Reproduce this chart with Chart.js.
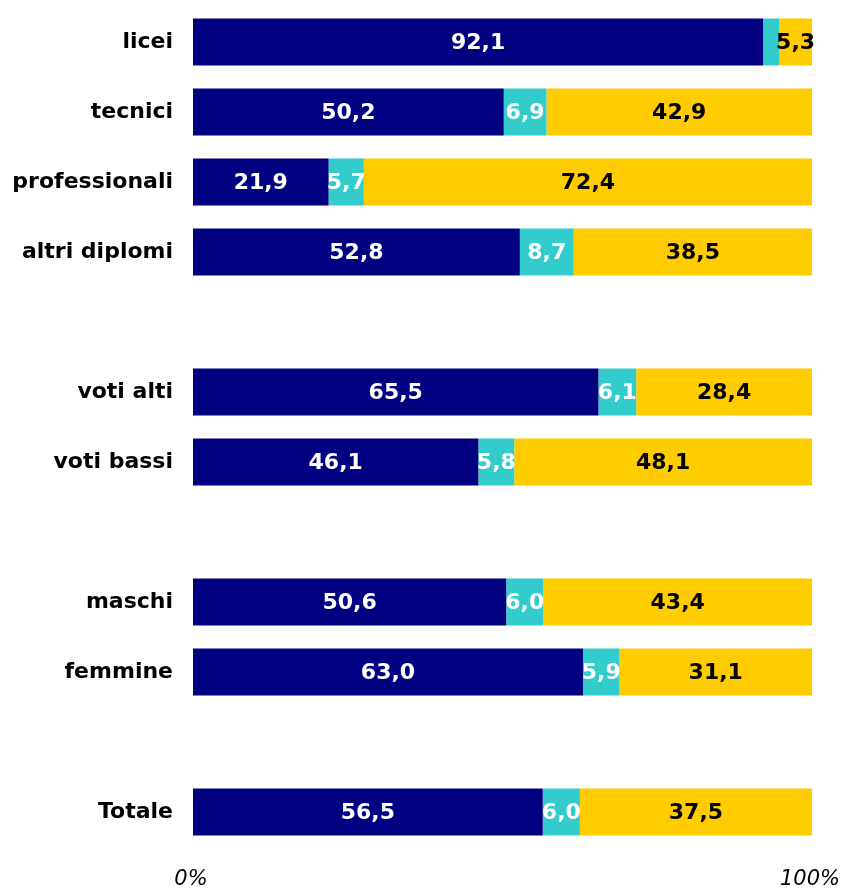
<!DOCTYPE html>
<html>
<head>
<meta charset="utf-8">
<script src="https://cdn.jsdelivr.net/npm/chart.js@4"></script>
<style>
html,body{margin:0;padding:0;background:#fff;}
#wrap{width:845px;height:890px;position:relative;}
</style>
</head>
<body>
<div id="wrap"><canvas id="c" width="845" height="890"></canvas></div>
<script>
const categories = ['licei','tecnici','professionali','altri diplomi','','voti alti','voti bassi','','maschi','femmine','','Totale'];
const seriesA = [92.1, 50.2, 21.9, 52.8, null, 65.5, 46.1, null, 50.6, 63.0, null, 56.5];
const seriesB = [2.6, 6.9, 5.7, 8.7, null, 6.1, 5.8, null, 6.0, 5.9, null, 6.0];
const seriesC = [5.3, 42.9, 72.4, 38.5, null, 28.4, 48.1, null, 43.4, 31.1, null, 37.5];
const tickValues = [0, 100];
const tickLabels = ['0%', '100%'];

const FONT = '"DejaVu Sans", Verdana, sans-serif';

const labelPlugin = {
  id: 'segLabels',
  afterDatasetsDraw(chart) {
    const ctx = chart.ctx;
    ctx.save();
    ctx.font = 'bold 22px ' + FONT;
    ctx.textAlign = 'center';
    ctx.textBaseline = 'middle';
    chart.data.datasets.forEach((ds, di) => {
      const meta = chart.getDatasetMeta(di);
      meta.data.forEach((bar, i) => {
        const v = ds.data[i];
        if (v == null || v < 3) return;
        const x = (bar.x + bar.base) / 2;
        ctx.fillStyle = ds.labelColor;
        ctx.fillText(v.toFixed(1).replace('.', ','), x, bar.y + 1.5);
      });
    });
    // x-axis end labels
    const xs = chart.scales.x;
    ctx.font = 'italic 21px ' + FONT;
    ctx.fillStyle = '#000';
    tickValues.forEach((tv, k) => {
      ctx.fillText(tickLabels[k], xs.getPixelForValue(tv) - 2, 880);
    });
    ctx.restore();
  }
};

new Chart(document.getElementById('c'), {
  type: 'bar',
  data: {
    labels: categories,
    datasets: [
      {data: seriesA, backgroundColor: '#000080', labelColor: '#ffffff'},
      {data: seriesB, backgroundColor: '#33CCCC', labelColor: '#ffffff'},
      {data: seriesC, backgroundColor: '#FFCC00', labelColor: '#000000'}
    ]
  },
  options: {
    indexAxis: 'y',
    responsive: false,
    animation: false,
    devicePixelRatio: 1,
    layout: {padding: {top: 7, bottom: 43, right: 33, left: 0}},
    datasets: {bar: {categoryPercentage: 1, barPercentage: 0.67, borderWidth: 0}},
    plugins: {legend: {display: false}, tooltip: {enabled: false}},
    scales: {
      x: {
        stacked: true, min: 0, max: 100, display: false
      },
      y: {
        stacked: true,
        grid: {display: false, drawTicks: false},
        border: {display: false},
        ticks: {
          padding: 20,
          color: '#000',
          font: {family: FONT, weight: 'bold', size: 22}
        },
        afterFit(scale) { scale.width = 193; scale.paddingTop = 0; scale.paddingBottom = 0; }
      }
    }
  },
  plugins: [labelPlugin]
});
</script>
</body>
</html>
